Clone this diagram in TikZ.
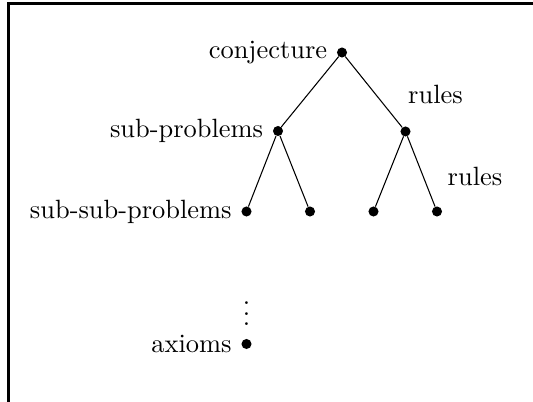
\documentclass[tikz,border=0pt]{standalone}
\tikzset{dot/.style={circle,fill,inner sep=0pt,minimum size=3.8pt}}
\begin{document}
\begin{tikzpicture}[x=0.133cm,y=-0.133cm,line cap=round]
    \useasboundingbox (0,0) rectangle (53.3,40.2);
    \draw[line width=0.9pt,line cap=butt] (0.85,40.2)--(0.85,0.35)--(53.3,0.35);
    \node[dot,label=left:conjecture] (conj) at (34.2,5.25) {};
    \node[dot,label=left:sub-problems] (subA) at (27.8,13.1) {};
    \node[dot] (subB) at (40.55,13.15) {};
    \node[dot,label=left:sub-sub-problems] (leafA) at (24.65,21.15) {};
    \node[dot] (leafB) at (31.0,21.15) {};
    \node[dot] (leafC) at (37.35,21.15) {};
    \node[dot] (leafD) at (43.7,21.15) {};
    \node[dot,label=left:axioms] (ax) at (24.65,34.4) {};
    \node[inner sep=0pt] (dots) at (24.65,30.6) {$\vdots$};
    \draw (conj)--(subA); \draw (conj)--(subB);
    \draw (subA)--(leafA); \draw (subA)--(leafB);
    \draw (subB)--(leafC); \draw (subB)--(leafD);
    \node (rulesA) at (43.55,9.4) {rules};
    \node (rulesB) at (47.5,17.6) {rules};
  \end{tikzpicture}
\end{document}
